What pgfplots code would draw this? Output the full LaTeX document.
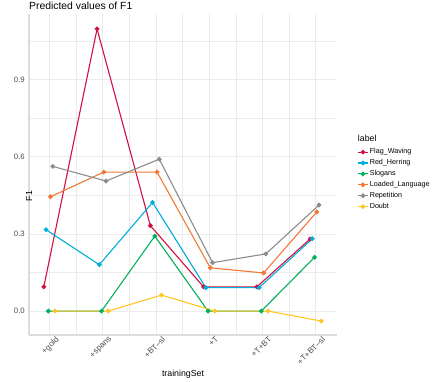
\documentclass[border=0pt]{standalone}
\usepackage{fontspec}
\setmainfont{Liberation Sans}
\usepackage{pgfplots}
\pgfplotsset{compat=1.18}

\definecolor{cFlag}{HTML}{D11141}
\definecolor{cRed}{HTML}{00AEDB}
\definecolor{cSlog}{HTML}{00B159}
\definecolor{cLoad}{HTML}{F37735}
\definecolor{cRep}{HTML}{8C8C8C}
\definecolor{cDoubt}{HTML}{FFC425}
\definecolor{gridc}{HTML}{EBEBEB}
\definecolor{axisc}{HTML}{DCDCDC}
\definecolor{tickc}{HTML}{4D4D4D}

\begin{document}
\begin{tikzpicture}
\begin{axis}[
    at={(0,0)}, anchor=south west,
    scale only axis, width=308bp, height=321bp,
    xmin=0.617, xmax=6.40, ymin=-0.093, ymax=1.154,
    xtick={1,2,3,4,5,6},
    xticklabels={+gold,+spans,+BT--sl,+T,+T+BT,+T+BT--sl},
    minor xtick={1.5,2.5,3.5,4.5,5.5},
    ytick={0,0.3,0.6,0.9},
    yticklabels={0.0,0.3,0.6,0.9},
    minor ytick={0.15,0.45,0.75,1.05},
    grid=both,
    major grid style={draw=gridc, line width=0.6bp},
    minor grid style={draw=gridc, line width=0.35bp},
    axis x line*=bottom, axis y line*=left,
    axis line style={draw=axisc, line width=1.1bp, -},
    major tick length=0pt, minor tick length=0pt,
    /pgf/number format/assume math mode=true,
    x tick label style={rotate=45, anchor=north east, font=\fontsize{8.2}{9}\selectfont, text=tickc, inner sep=0.5bp, yshift=-4bp, xshift=4bp},
    y tick label style={font=\fontsize{7.8}{9}\selectfont, text=tickc, inner sep=1bp, xshift=-3bp},
    xlabel={trainingSet},
    xlabel style={at={(rel axis cs:0.5,0)}, anchor=base, yshift=-41bp, font=\fontsize{8.8}{10}\selectfont},
    ylabel={F1},
    ylabel style={at={(rel axis cs:0,0.5)}, anchor=center, rotate=0, xshift=-21.7bp, yshift=0bp, font=\fontsize{8.8}{10}\selectfont},
    every axis plot/.append style={line width=1.1bp, mark=*, mark size=1.8bp},
    legend style={at={(rel axis cs:1.055,0.59)}, anchor=north west, draw=none, fill=none,
        font=\fontsize{7.2}{8}\selectfont, row sep=2.2bp, nodes={inner sep=1bp}},
    legend cell align=left,
    legend image code/.code={\draw[mark repeat=2, mark phase=2] plot coordinates {(0bp,0bp) (5.3bp,0bp) (10.6bp,0bp)};},
    clip=false,
]
\addplot[cFlag] coordinates {(0.895,0.094) (1.895,1.096) (2.895,0.332) (3.895,0.094) (4.895,0.094) (5.895,0.280)};
\addlegendentry{Flag\_Waving}
\addplot[cRed] coordinates {(0.937,0.316) (1.937,0.180) (2.937,0.422) (3.937,0.091) (4.937,0.091) (5.937,0.281)};
\addlegendentry{Red\_Herring}
\addplot[cSlog] coordinates {(0.979,0.0) (1.979,0.0) (2.979,0.291) (3.979,0.0) (4.979,0.0) (5.979,0.209)};
\addlegendentry{Slogans}
\addplot[cLoad] coordinates {(1.021,0.444) (2.021,0.540) (3.021,0.540) (4.021,0.168) (5.021,0.148) (6.021,0.385)};
\addlegendentry{Loaded\_Language}
\addplot[cRep] coordinates {(1.063,0.562) (2.063,0.505) (3.063,0.590) (4.063,0.188) (5.063,0.222) (6.063,0.412)};
\addlegendentry{Repetition}
\addplot[cDoubt] coordinates {(1.105,0.0) (2.105,0.0) (3.105,0.062) (4.105,0.0) (5.105,0.0) (6.105,-0.039)};
\addlegendentry{Doubt}
\node[anchor=base west, font=\fontsize{10.4}{12}\selectfont, inner sep=0pt] at ([yshift=4.5bp]rel axis cs:0,1) {Predicted values of F1};
\node[anchor=base west, font=\fontsize{8.8}{10}\selectfont, inner sep=0pt] at ([yshift=-5bp]rel axis cs:1.0675,0.617) {label};
\end{axis}
\useasboundingbox (-29bp,-47bp) rectangle (407bp,335bp);
\end{tikzpicture}
\end{document}
